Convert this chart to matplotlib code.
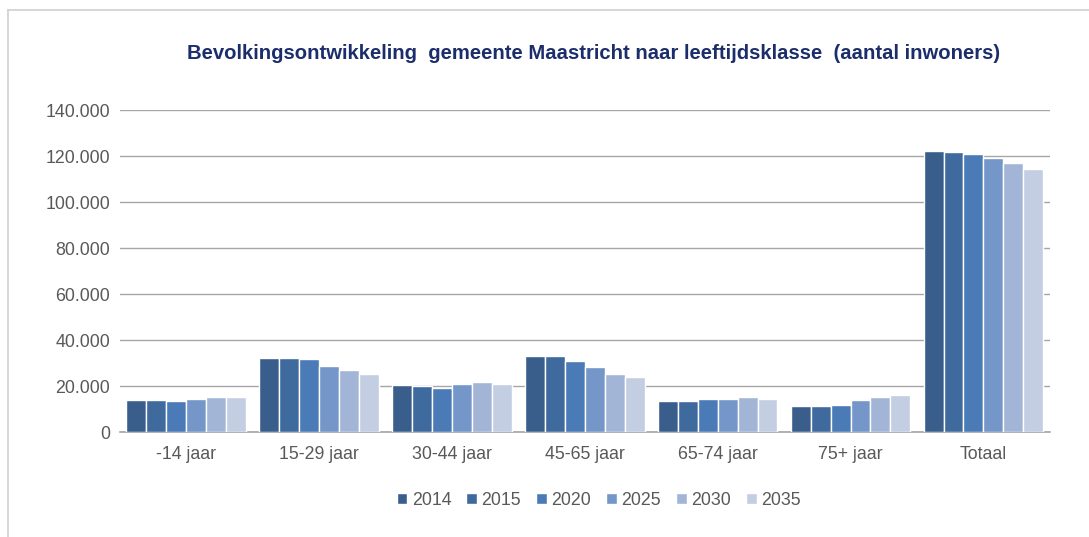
import numpy as np
import matplotlib.pyplot as plt
from matplotlib.ticker import FuncFormatter
from matplotlib.lines import Line2D

plt.rcParams['font.family'] = ['Liberation Sans', 'DejaVu Sans']

categories = ['-14 jaar', '15-29 jaar', '30-44 jaar', '45-65 jaar',
              '65-74 jaar', '75+ jaar', 'Totaal']
years = ['2014', '2015', '2020', '2025', '2030', '2035']

v2014 = [13900, 32300, 20300, 33000, 13500, 11300, 122300]
v2015 = [13900, 32300, 20000, 33000, 13500, 11300, 121700]
v2020 = [13300, 31700, 19300, 30700, 14500, 11700, 120700]
v2025 = [14500, 28600, 21000, 28100, 14500, 13900, 119100]
v2030 = [15100, 27000, 21600, 25400, 15100, 15100, 117000]
v2035 = [15100, 25200, 21000, 23800, 14500, 16100, 114200]
series = [v2014, v2015, v2020, v2025, v2030, v2035]

colors = ['#3A5E8C', '#3F6A9E', '#4A7BB7', '#7496C8', '#A2B5D6', '#C3CEE3']

fig = plt.figure(figsize=(10.89, 5.37), dpi=100)
ax = fig.add_axes([0.110, 0.1955, 0.854, 0.5995])

x = np.arange(len(categories))
w = 0.15
for i, (vals, c) in enumerate(zip(series, colors)):
    ax.bar(x + (i - 2.5) * w, vals, width=w, color=c, edgecolor='white',
           linewidth=1.0, label=years[i], zorder=3)

ax.set_ylim(0, 140000)
ax.set_xlim(-0.5, len(categories) - 0.5)
ax.set_yticks(np.arange(0, 140001, 20000))
ax.yaxis.set_major_formatter(FuncFormatter(lambda v, p: f'{int(v):,}'.replace(',', '.')))
ax.set_xticks(x)
ax.set_xticklabels(categories)
ax.tick_params(axis='both', length=0, labelsize=12.8, colors='#595959')
ax.tick_params(axis='x', pad=10)
ax.tick_params(axis='y', pad=7)
ax.grid(axis='y', color='#A6A6A6', linewidth=1.0, zorder=0)
for s in ['top', 'right', 'left']:
    ax.spines[s].set_visible(False)
ax.spines['bottom'].set_color('#A6A6A6')
ax.spines['bottom'].set_linewidth(1.2)

fig.text(0.545, 0.9, 'Bevolkingsontwikkeling  gemeente Maastricht naar leeftijdsklasse  (aantal inwoners)',
         ha='center', va='center', fontsize=14.6, fontweight='bold', color='#1B2E6B')

ax.legend(loc='center', bbox_to_anchor=(0.515, -0.213), ncol=6, frameon=False,
          fontsize=12.8, handlelength=0.6, handleheight=0.6, handletextpad=0.25,
          columnspacing=0.85, labelcolor='#595959')

# outer chart border
fig.add_artist(Line2D([8 / 1089, 8 / 1089], [0, 1 - 10 / 537], color='#D0D0D0', lw=1.2))
fig.add_artist(Line2D([8 / 1089, 1], [1 - 10 / 537, 1 - 10 / 537], color='#D0D0D0', lw=1.2))

fig.savefig('out.png', dpi=100)
